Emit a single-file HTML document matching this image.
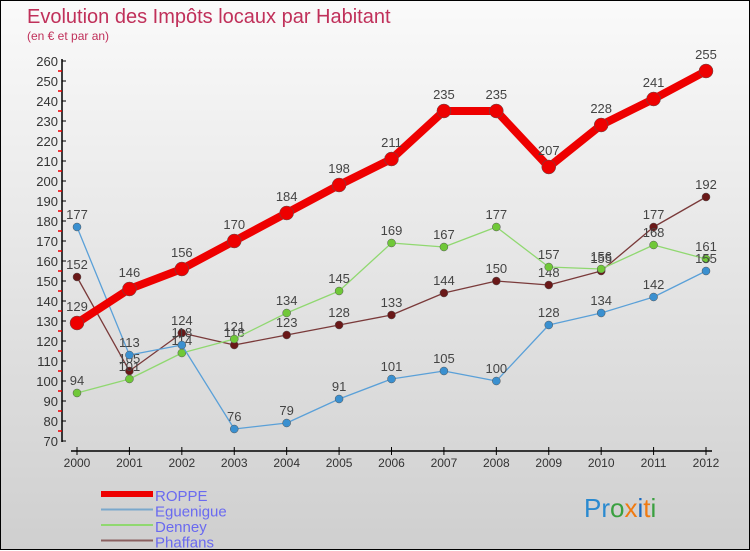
<!DOCTYPE html>
<html><head><meta charset="utf-8"><style>
body{margin:0}
#c{width:748px;height:548px;border:1px solid #000;background:linear-gradient(#fafafa,#cfcfcf);position:relative;font-family:"Liberation Sans",sans-serif}
svg{position:absolute;left:0;top:0}
</style></head><body>
<div id="c">
<svg id="s" width="750" height="550">
<text x="26" y="22" font-size="20" fill="#c0305a">Evolution des Impôts locaux par Habitant</text>
<text x="26" y="39" font-size="12" fill="#c0305a">(en € et par an)</text>
<g id="ax"></g><g id="ser"></g><g id="leg"></g>
<text x="583" y="516" font-size="26" font-family="Liberation Sans,sans-serif"><tspan fill="#2a8ad0">Pr</tspan><tspan fill="#3aa040">o</tspan><tspan fill="#f07a10">x</tspan><tspan fill="#1a6ac0">i</tspan><tspan fill="#f07a10">t</tspan><tspan fill="#3aa040">i</tspan></text>
</svg></div>
<script>
const years=[2000,2001,2002,2003,2004,2005,2006,2007,2008,2009,2010,2011,2012];
const roppe=[129,146,156,170,184,198,211,235,235,207,228,241,255];
const eguenigue=[177,113,118,76,79,91,101,105,100,128,134,142,155];
const denney=[94,101,114,121,134,145,169,167,177,157,156,168,161];
const phaffans=[152,105,124,118,123,128,133,144,150,148,155,177,192];
const yTicks=[70,80,90,100,110,120,130,140,150,160,170,180,190,200,210,220,230,240,250,260];
const NS="http://www.w3.org/2000/svg";
const X=i=>76+i*(705-76)/(years.length-1);
const Y=v=>440-(v-70)*2;
function mk(t,a,p){const e=document.createElementNS(NS,t);for(const k in a)e.setAttribute(k,a[k]);p.appendChild(e);return e;}
const ax=document.getElementById('ax');
let l=mk('line',{x1:61,y1:58,x2:61,y2:441,stroke:'#000','stroke-width':1.5},ax);


l=mk('line',{x1:70,y1:450,x2:711,y2:450,stroke:'#000','stroke-width':1.5},ax);


yTicks.forEach(v=>{
 mk('line',{x1:61,y1:Y(v),x2:65,y2:Y(v),stroke:'#000'},ax);
 if(v<260)mk('line',{x1:57,y1:Y(v+5),x2:61,y2:Y(v+5),stroke:'#e00','stroke-width':1.5},ax);
 const t=mk('text',{x:57,y:Y(v)+5,'font-size':13,'text-anchor':'end',fill:'#333'},ax);t.textContent=v;
 
 
});
years.forEach((y,i)=>{
 mk('line',{x1:X(i),y1:446,x2:X(i),y2:454,stroke:'#000'},ax);
 const t=mk('text',{x:X(i),y:466,'font-size':12,'text-anchor':'middle',fill:'#333'},ax);t.textContent=y;
 
 
});
const ser=document.getElementById('ser');
function draw(name,d,col,w,r,dot){
 const g=mk('g',{},ser);
 
 
 mk('polyline',{points:d.map((v,i)=>X(i)+','+Y(v)).join(' '),fill:'none',stroke:col,'stroke-width':w,'stroke-linejoin':'round'},g);
 d.forEach((v,i)=>{
  const c=mk('circle',{cx:X(i),cy:Y(v),r:r,fill:dot,stroke:'#555','stroke-width':0.5},g);
  
  
  const t=mk('text',{x:X(i),y:Y(v)-8-(r>5?4:0),'font-size':13,'text-anchor':'middle',fill:'#444'},g);t.textContent=v;
  
  
 });
}
draw('phaffans',phaffans,'#7a3a3a',1.3,4,'#6a1818');
draw('denney',denney,'#90d870',1.3,4,'#70c838');
draw('eguenigue',eguenigue,'#5aa0d8',1.3,4,'#3a90d0');
draw('roppe',roppe,'#ee0000',8,7,'#ee0000');
const leg=document.getElementById('leg');
[['ROPPE','#ee0000',6],['Eguenigue','#7aa8cc',2],['Denney','#90d870',2],['Phaffans','#8a6060',2]].forEach((e,i)=>{
 const y=493+i*15.5;
 const g=mk('g',{},leg);
 
 
 mk('line',{x1:100,y1:y,x2:152,y2:y,stroke:e[1],'stroke-width':e[2]},g);
 const t=mk('text',{x:154,y:y+7,'font-size':15,fill:'#6a6af0'},g);t.textContent=e[0];
});
</script>
</body></html>
